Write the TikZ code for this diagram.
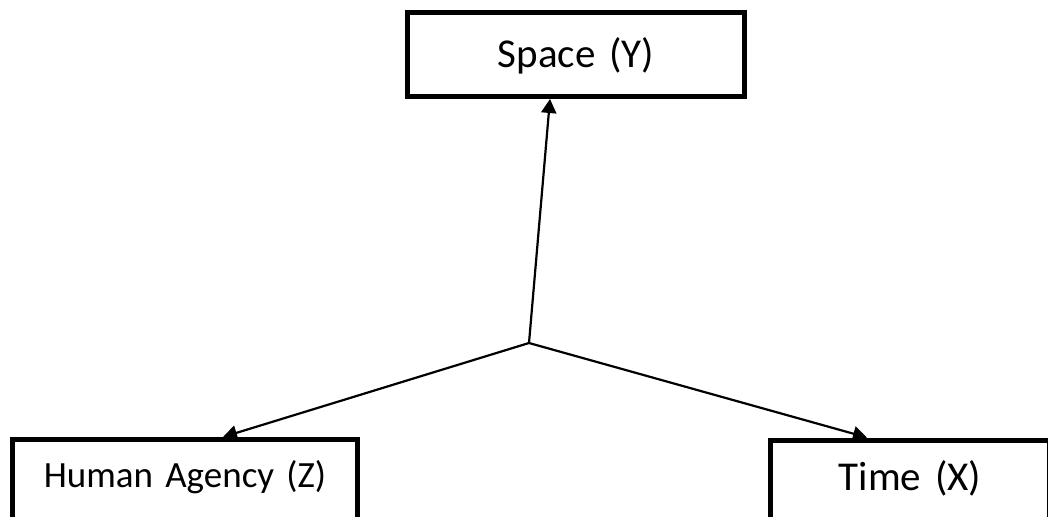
\documentclass[tikz,border=0pt]{standalone}
\usepackage{fontspec}
\setmainfont{Carlito}
\usetikzlibrary{arrows.meta}

\begin{document}
\begin{tikzpicture}[x=1bp, y=-1bp,
  box/.style={draw, line width=5bp, inner sep=0pt, align=center},
  link/.style={line width=2.2bp, -{Triangle[length=14bp, width=15bp]}}]
  \useasboundingbox (0, 0) rectangle (1048, 517);
  \node [box, text width=337bp, text height=55bp, text depth=29bp,
    font=\fontsize{41bp}{49bp}\selectfont] (space) at (576, 54.5) {Space (Y)};
  \node [box, text width=345bp, text height=47.5bp, text depth=43bp,
    font=\fontsize{37bp}{44bp}\selectfont] (agency) at (185, 484.75) {Human Agency (Z)};
  \node [box, text width=279bp, text height=50bp, text depth=40bp,
    font=\fontsize{41bp}{49bp}\selectfont] (time) at (910, 485) {Time (X)};
  \coordinate (hub) at (529, 343);
  \draw [link] (hub) -- ([xshift=-26bp]space.south);
  \draw [link] (hub) -- ([xshift=38bp]agency.north);
  \draw [link] (hub) -- ([xshift=-43bp]time.north);
\end{tikzpicture}
\end{document}
